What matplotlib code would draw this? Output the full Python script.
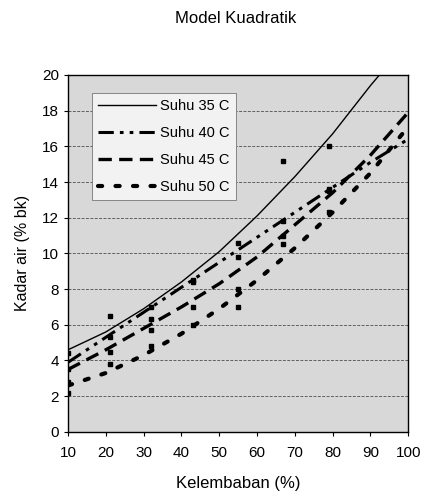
import matplotlib
matplotlib.use("Agg")
import matplotlib.pyplot as plt

plt.rcParams['font.family'] = ['Liberation Sans', 'DejaVu Sans']

# kurva model kuadratik
rh_curve = [10, 20, 30, 40, 50, 60, 70, 80, 90, 100]
rh_35 = [10, 20, 30, 40, 50, 60, 70, 80, 90, 92.4]
ka_35 = [4.6, 5.6, 6.9, 8.4, 10.1, 12.1, 14.3, 16.7, 19.4, 20.0]
ka_40 = [3.9, 5.3, 6.7, 8.1, 9.5, 10.9, 12.3, 13.7, 15.1, 16.4]
ka_45 = [3.5, 4.6, 5.8, 7.0, 8.3, 9.8, 11.6, 13.4, 15.5, 17.9]
ka_50 = [2.6, 3.3, 4.3, 5.5, 6.9, 8.5, 10.3, 12.3, 14.5, 17.1]

# titik data pengamatan
rh_obs = [10, 21, 32, 43, 55, 67, 79]
obs_35 = [4.4, 6.5, 7.0, 8.5, 10.6, 15.2, 16.0]
obs_40 = [3.5, 5.3, 6.3, 8.4, 9.8, 11.8, 13.6]
obs_45 = [2.8, 4.5, 5.7, 7.0, 8.0, 11.0, 13.5]
obs_50 = [2.2, 3.8, 4.8, 6.0, 7.0, 10.5, 12.3]

fig = plt.figure(figsize=(4.23, 4.93), dpi=100)
ax = fig.add_axes([0.161, 0.124, 0.804, 0.724])
ax.set_facecolor('#d8d8d8')

for y in range(2, 20, 2):
    ax.axhline(y, color='#606060', lw=0.7, ls=(0, (3, 1.5)), zorder=1)

ax.plot(rh_35, ka_35, color='black', lw=1.0, label='Suhu 35 C', zorder=3)
ax.plot(rh_curve, ka_40, color='black', lw=2.2,
        ls=(0, (5, 2, 1.2, 2, 1.2, 2)), label='Suhu 40 C', zorder=3)
ax.plot(rh_curve, ka_45, color='black', lw=2.4, ls=(0, (4, 2.2)),
        label='Suhu 45 C', zorder=3)
ax.plot(rh_curve, ka_50, color='black', lw=3.0, ls=(0, (1, 3.2)),
        dash_capstyle='round', label='Suhu 50 C', zorder=3)

for obs in (obs_35, obs_40, obs_45, obs_50):
    ax.plot(rh_obs, obs, ls='none', marker='s', ms=3.5, color='black', zorder=4)

ax.set_xlim(10, 100)
ax.set_ylim(0, 20)
ax.set_xticks(range(10, 101, 10))
ax.set_yticks(range(0, 21, 2))
ax.tick_params(labelsize=11, length=3, direction='out')
ax.tick_params(axis='x', pad=7)
for s in ax.spines.values():
    s.set_linewidth(1.0)

ax.set_xlabel('Kelembaban (%)', fontsize=12, labelpad=12)
ax.set_ylabel('Kadar air (% bk)', fontsize=11.5, labelpad=9)
fig.text(0.558, 0.963, 'Model Kuadratik', fontsize=12, ha='center', va='center')

leg = ax.legend(loc='upper left', bbox_to_anchor=(0.07, 0.95), fontsize=10.5,
                handlelength=4.0, handletextpad=0.3, labelspacing=0.9,
                borderaxespad=0, fancybox=False, framealpha=1)
leg.get_frame().set_facecolor('#f2f2f2')
leg.get_frame().set_edgecolor('#777777')
leg.get_frame().set_linewidth(0.6)

fig.savefig('out.png', dpi=100)
